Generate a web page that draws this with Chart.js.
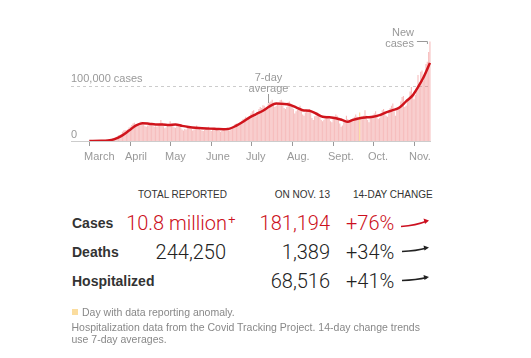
<!DOCTYPE html>
<html>
<head>
<meta charset="utf-8">
<script src="https://cdn.jsdelivr.net/npm/chart.js@4.4.1/dist/chart.umd.min.js"></script>
<style>
  body { margin: 0; background: #fff; font-family: "Liberation Sans", Arial, sans-serif; }
  #wrap { position: relative; width: 531px; height: 358px; overflow: hidden; }
  #chart { position: absolute; left: 0; top: 0; }
  .t { position: absolute; white-space: nowrap; }
  .hdr { font-size: 10px; line-height: 12px; top: 189px; color: #333; }
  .lbl { font-size: 14px; font-weight: bold; color: #333; left: 72px; line-height: 20px; }
  .num { font-family: Roboto, "Liberation Sans", sans-serif; font-weight: 300; font-size: 20px; line-height: 24px; color: #222; }
  .red { color: #cc1020; }
  .foot { font-size: 10.5px; line-height: 12px; color: #888; }
  #arrows { position: absolute; left: 0; top: 0; }
</style>
</head>
<body>
<div id="wrap">
  <canvas id="chart" width="531" height="170"></canvas>

  <div class="t hdr" style="right:304px">TOTAL REPORTED</div>
  <div class="t hdr" style="right:201px">ON NOV. 13</div>
  <div class="t hdr" style="left:353px">14-DAY CHANGE</div>

  <div class="t lbl" style="top:213px">Cases</div>
  <div class="t num red" style="top:211px;right:304px">10.8 million</div>
  <div class="t red" style="top:212px;left:228px;font-size:13px">+</div>
  <div class="t num red" style="top:211px;right:201px">181,194</div>
  <div class="t num red" style="top:211px;left:346px">+76%</div>

  <div class="t lbl" style="top:242px">Deaths</div>
  <div class="t num" style="top:240px;right:305px">244,250</div>
  <div class="t num" style="top:240px;right:201px">1,389</div>
  <div class="t num" style="top:240px;left:346px">+34%</div>

  <div class="t lbl" style="top:271px">Hospitalized</div>
  <div class="t num" style="top:269px;right:201px">68,516</div>
  <div class="t num" style="top:269px;left:346px">+41%</div>

  <svg id="arrows" width="531" height="358">
    <path d="M401 226.5 Q416 225.5 427 221" stroke="#cc1020" stroke-width="1.5" fill="none"/>
    <path d="M423.5 218.5 L429 220.5 L425 224 Z" fill="#cc1020"/>
    <path d="M402 251.5 Q416 251 427 248" stroke="#222" stroke-width="1.5" fill="none"/>
    <path d="M423.5 245.5 L429 247.5 L424.5 250.5 Z" fill="#222"/>
    <path d="M402 280.5 Q416 280 427 277.5" stroke="#222" stroke-width="1.5" fill="none"/>
    <path d="M423.5 275 L429 277 L424.5 280 Z" fill="#222"/>
  </svg>

  <div class="t" style="left:71.5px;top:308.5px;width:6px;height:6px;background:#fbdd9f"></div>
  <div class="t foot" style="left:82px;top:305.5px">Day with data reporting anomaly.</div>
  <div class="t foot" style="left:71.5px;top:321px">Hospitalization data from the Covid Tracking Project. 14-day change trends</div>
  <div class="t foot" style="left:71.5px;top:333px">use 7-day averages.</div>
</div>

<script>
// daily new cases, in thousands, one value per day starting March 1
const marchCases = [0.02, 0.03, 0.03, 0.04, 0.07, 0.08, 0.12, 0.13, 0.18, 0.27, 0.4, 0.5, 0.7, 0.9, 1.0, 1.6,
  2.2, 3.0, 4.5, 5.9, 7.0, 8.6, 10.3, 10.7, 12.6, 17.0, 19.0, 20.0, 19.5, 21.0, 24.5];
const aprilCases = [26, 29, 32, 33, 26, 29, 31, 32, 35, 33, 30, 27, 26, 28, 30, 31, 32, 28, 26, 27,
  26, 29, 32, 38, 33, 27, 23, 25, 28, 30];
const mayCases = [36, 31, 28, 25, 24, 27, 29, 26, 25, 21, 19, 22, 21, 27, 25, 24, 22, 19, 21, 23,
  28, 24, 24, 20, 19, 18, 20, 22, 24, 26, 23];
const juneCases = [18, 21, 20, 22, 23, 22, 18, 17, 18, 21, 22, 23, 25, 21, 19, 21, 23, 27, 31, 32,
  28, 30, 34, 37, 40, 41, 44, 42, 40, 44];
const julyCases = [50, 54, 56, 48, 45, 50, 58, 62, 60, 65, 64, 60, 60, 68, 70, 72, 75, 68, 62, 64,
  68, 70, 74, 75, 72, 60, 58, 62, 71, 72, 68];
const augCases = [66, 58, 50, 54, 57, 60, 64, 56, 48, 46, 52, 56, 55, 58, 53, 42, 38, 45, 46, 48,
  47, 44, 38, 36, 38, 45, 44, 46, 40, 36, 34];
const septCases = [42, 44, 48, 46, 40, 32, 26, 28, 34, 38, 46, 40, 34, 36, 38, 42, 44, 48, 44, 38,
  52, 40, 40, 46, 56, 46, 38, 34, 42, 44];
const octCases = [46, 50, 54, 48, 40, 42, 50, 56, 58, 54, 46, 44, 52, 60, 64, 68, 54, 46, 58, 60,
  62, 72, 80, 82, 62, 64, 72, 78, 90, 98, 82];
const novCases = [76, 84, 92, 120, 104, 126, 128, 110, 118, 140, 144, 162, 181];

// 7-day average (thousands), at these days since March 1
const avgDays = [0, 9, 14, 19, 24, 30, 35, 40, 45, 50, 55, 60, 65, 70, 75, 80, 85, 91, 96, 101, 106,
  111, 116, 121, 126, 131, 136, 141, 146, 151, 156, 161, 166, 171, 176, 181, 186, 191, 195, 199,
  204, 209, 214, 219, 224, 229, 234, 239, 244, 248, 252, 257];
const avgValues = [0.1, 0.3, 1.0, 3.5, 9, 19, 28, 32.5, 31.5, 30, 30, 29, 30, 27.5, 25.5, 24, 23, 22.5,
  22, 21.5, 22.5, 28, 35, 43, 49, 55, 63, 68, 67.5, 66, 61, 56, 55, 50, 44, 43, 41.5, 38, 35, 38.5,
  41.5, 43, 44, 47, 52, 56, 61, 72, 83, 98, 115, 142];

// x-axis ticks (days since March 1)
const monthStarts = [0, 31, 61, 92, 122, 153, 184, 214, 245];
const monthLabels = ['March', 'April', 'May', 'June', 'July', 'Aug.', 'Sept.', 'Oct.', 'Nov.'];
const anomalyDay = 204; // Sept. 21
const gridValue = 100;  // 100,000 cases

const dailyCases = [].concat(marchCases, aprilCases, mayCases, juneCases, julyCases,
  augCases, septCases, octCases, novCases);
const barPoints = dailyCases.map((v, i) => ({ x: i, y: v }));
const avgPoints = avgDays.map((d, i) => ({ x: d, y: avgValues[i] }));
const barColors = dailyCases.map((v, i) => i === anomalyDay ? '#fbd99a' : 'rgba(232, 92, 92, 0.4)');

const grey = '#999';

// baseline, gridline, ticks and annotation text
const axisPlugin = {
  id: 'nytAxis',
  beforeDatasetsDraw(chart) {
    const { ctx, chartArea: a, scales: { y } } = chart;
    ctx.save();
    ctx.strokeStyle = '#ccc';
    ctx.lineWidth = 1;
    ctx.setLineDash([3, 3]);
    const gy = Math.round(y.getPixelForValue(gridValue)) + 0.5;
    ctx.beginPath(); ctx.moveTo(a.left, gy); ctx.lineTo(a.right, gy); ctx.stroke();
    ctx.setLineDash([]);
    const by = Math.round(y.getPixelForValue(0)) + 0.5;
    ctx.beginPath(); ctx.moveTo(a.left, by); ctx.lineTo(a.right, by); ctx.stroke();
    ctx.restore();
  },
  afterDraw(chart) {
    const { ctx, chartArea: a, scales: { x, y } } = chart;
    ctx.save();
    ctx.font = '11px "Liberation Sans", Arial, sans-serif';
    ctx.fillStyle = grey;
    ctx.strokeStyle = grey;
    ctx.lineWidth = 1;
    const by = y.getPixelForValue(0);

    // month ticks
    ctx.textBaseline = 'middle';
    ctx.textAlign = 'left';
    monthStarts.forEach((d, i) => {
      const px = Math.round(x.getPixelForValue(d)) + 0.5;
      ctx.beginPath(); ctx.moveTo(px, by + 1); ctx.lineTo(px, by + 5); ctx.stroke();
      ctx.fillText(monthLabels[i], px - 5.5, by + 16);
    });

    // y labels
    ctx.fillText('0', a.left, by - 6);
    ctx.fillText('100,000 cases', a.left, y.getPixelForValue(gridValue) - 7);

    // 7-day average note
    const ax = Math.round(x.getPixelForValue(135)) + 0.5;
    ctx.textAlign = 'center';
    ctx.fillText('7-day', ax, 77.5);
    ctx.fillText('average', ax, 88.5);
    ctx.beginPath(); ctx.moveTo(ax, 94); ctx.lineTo(ax, 103); ctx.stroke();

    // new cases note
    const nx = x.getPixelForValue(dailyCases.length - 1);
    ctx.textAlign = 'right';
    ctx.fillText('New', nx - 16, 32.5);
    ctx.fillText('cases', nx - 16, 43.5);
    ctx.beginPath(); ctx.moveTo(nx - 13, 41.5); ctx.lineTo(nx - 2.5, 41.5); ctx.lineTo(nx - 2.5, 44); ctx.stroke();
    ctx.restore();
  }
};

new Chart(document.getElementById('chart'), {
  type: 'bar',
  data: {
    datasets: [
      {
        type: 'line',
        data: avgPoints,
        borderColor: '#d0141c',
        borderWidth: 2.5,
        pointRadius: 0,
        cubicInterpolationMode: 'monotone',
        order: 0
      },
      {
        type: 'bar',
        data: barPoints,
        backgroundColor: barColors,
        barPercentage: 0.85,
        categoryPercentage: 1,
        order: 1
      }
    ]
  },
  options: {
    responsive: false,
    animation: false,
    layout: { padding: { left: 71, right: 100, top: 36.5, bottom: 29 } },
    plugins: { legend: { display: false }, tooltip: { enabled: false } },
    scales: {
      x: { type: 'linear', min: -13.8, max: 257.8, offset: false, display: false },
      y: { min: 0, max: 190, display: false }
    }
  },
  plugins: [axisPlugin]
});
</script>
</body>
</html>
